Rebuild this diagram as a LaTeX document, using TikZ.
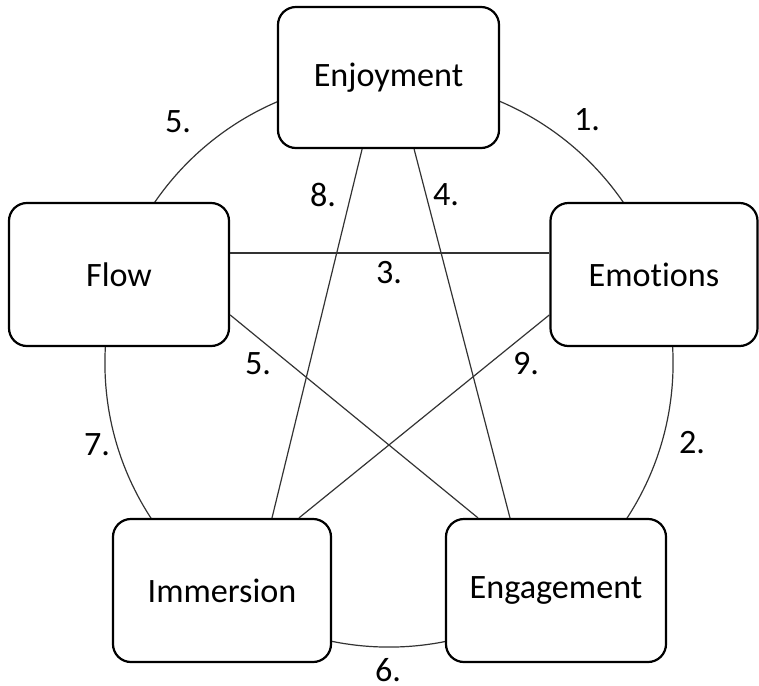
\documentclass[tikz,border=0pt]{standalone}
\usepackage{fontspec}
\setmainfont[Ligatures={NoCommon,NoRare}]{Carlito}
\usepackage{xcolor}
\usepackage{tikz}
\usetikzlibrary{shapes,arrows,positioning}

\tikzset{
    factor/.style={
        draw=black,
        fill=white,
        line width=0.055cm,
        rounded corners=0.45cm,
        minimum width=5.5cm,
        minimum height=3.575cm,
        inner sep=0pt,
        font=\fontsize{24.3}{29}\selectfont
    },
    link/.style={
        draw=black!80,
        line width=0.03cm
    },
    number/.style={
        inner sep=0pt,
        font=\fontsize{24.3}{29}\selectfont
    }
}

\begin{document}
\begin{tikzpicture}[x=0.025cm, y=-0.025cm]
                \useasboundingbox (0,0) rectangle (759,686);

                \coordinate (centre) at (389,363);
                \draw[link] (centre) circle[radius=7.1cm];

                \node[factor, minimum width=5.525cm, minimum height=3.525cm] (enjoyment) at (388.5,77.5) {Enjoyment};
                \node[factor] (flow) at (119,274.5) {Flow};
                \node[factor, minimum width=5.175cm] (emotions) at (654,274.5) {Emotions};
                \node[factor, minimum width=5.45cm] (immersion) at (222,590.5) {Immersion};
                \node[factor] (engagement) at (556,590.5) {Engagement};

                \draw[link] ([yshift=0.54cm]flow.east) -- ([yshift=0.54cm]emotions.west);
                \draw[link] ([yshift=-1.01cm]flow.east) -- ([xshift=-1.95cm]engagement.north);
                \draw[link] ([yshift=-1.01cm]emotions.west) -- ([xshift=1.925cm]immersion.north);
                \draw[link] ([xshift=-0.66cm]enjoyment.south) -- ([xshift=1.25cm]immersion.north);
                \draw[link] ([xshift=0.64cm]enjoyment.south) -- ([xshift=-1.15cm]engagement.north);

                \node[number] (one) at (587,120) {1.};
                \node[number] (two) at (692,443) {2.};
                \node[number] (three) at (389,273) {3.};
                \node[number] (four) at (446,195) {4.};
                \node[number] (fivetop) at (178,122) {5.};
                \node[number] (fivemid) at (258,364) {5.};
                \node[number] (six) at (388,670) {6.};
                \node[number] (seven) at (97,445) {7.};
                \node[number] (eight) at (323,195) {8.};
                \node[number] (nine) at (526,364) {9.};

            \end{tikzpicture}
\end{document}
